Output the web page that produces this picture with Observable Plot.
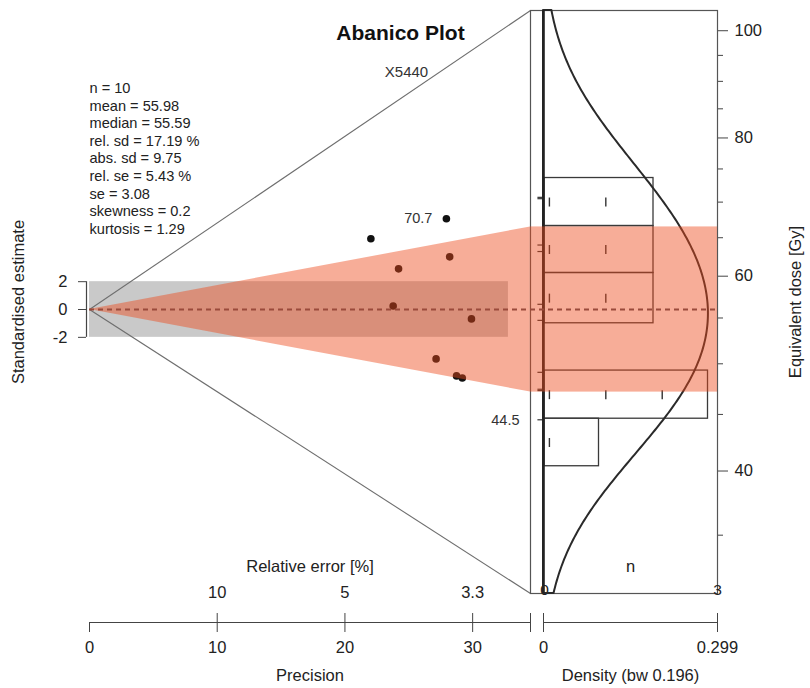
<!DOCTYPE html>
<html><head><meta charset="utf-8">
<script src="https://cdn.jsdelivr.net/npm/d3@7"></script>
<script src="https://cdn.jsdelivr.net/npm/@observablehq/plot@0.6"></script>
<style>
body{margin:0;background:#fff;}
#chart{position:relative;width:810px;height:688px;background:#fff;overflow:hidden;}
#chart svg{position:absolute;left:0;top:0;}
</style></head><body><div id="chart"></div>
<script>
// ---------------- data ----------------
const sampleName = "X5440";
const de      = [70.5, 70.7, 63.16, 64.02, 56.59, 54.73, 49.12, 47.42, 47.29, 44.5];
const deError = [3.20, 2.53, 2.61, 2.27, 2.38, 1.83, 1.81, 1.65, 1.62, 1.28];
const centralValue = 55.98;
const relSd = 0.1719;
const statLines = ["n = 10", "mean = 55.98", "median = 55.59", "rel. sd = 17.19 %",
  "abs. sd = 9.75", "rel. se = 5.43 %", "se = 3.08", "skewness = 0.2", "kurtosis = 1.29"];
const precisionTicks = [0, 10, 20, 30];
const relErrorTickPrecision = [10, 20, 30];
const doseTicks = [40, 60, 80, 100];
const doseMinorTicks = [35, 45, 50, 55, 65, 70, 75, 85, 90, 95];
const histBreaks = [40.4, 44.6, 49.3, 54.4, 60.4, 66.6, 73.6];
const zLimits = [31.0, 104.3];
const stdTicks = [-2, 0, 2];
const densityBw = 0.196;
const densityAxisMax = 0.299;
const precisionAxisMax = 34.53;
const plotPrecisionLimit = 32.8;

// ---------------- helpers ----------------
const FONT = "Liberation Sans, Arial, Helvetica, sans-serif";
const W = 810, H = 688;
const frameM = {top: 10, bottom: 95};
const AX = 16.5;      // axis font size
const baseStyle = {background: "transparent", fontFamily: FONT, fontSize: AX + "px", color: "#222", overflow: "visible"};
const redFill = "rgb(237,73,26)", redOpacity = 0.45;
const dashColor = "#9a4a3b";
const lnZ0 = Math.log(centralValue);
const stdAt = z => (Math.log(z) - lnZ0) * precisionAxisMax;
const yStdDomain = [stdAt(zLimits[0]), stdAt(zLimits[1])];
const pts = de.map((z, i) => {
  const precision = z / deError[i];
  return {z, precision, std: (Math.log(z) - lnZ0) * precision};
});
const extremes = [pts[d3.maxIndex(pts, d => d.z)], pts[d3.minIndex(pts, d => d.z)]];
const bandHalf = relSd * precisionAxisMax;
const chart = document.getElementById("chart");

// ---------------- left radial panel ----------------
chart.append(Plot.plot({
  width: W, height: H, marginLeft: 89, marginRight: 280, marginTop: frameM.top, marginBottom: frameM.bottom,
  style: baseStyle,
  x: {domain: [0, precisionAxisMax], axis: null},
  y: {domain: yStdDomain, axis: null},
  marks: [
    Plot.rect([0], {x1: 0, x2: plotPrecisionLimit, y1: -2, y2: 2, fill: "#c9c9c9"}),
    Plot.link(zLimits, {x1: 0, y1: 0, x2: precisionAxisMax, y2: d => stdAt(d), stroke: "#6e6e6e", strokeWidth: 1.1}),
    Plot.dot(pts.filter(d => d.precision <= plotPrecisionLimit), {x: "precision", y: "std", r: 3.8, fill: "#111", stroke: "none"}),
    Plot.areaY([{x: 0, lo: 0, hi: 0}, {x: precisionAxisMax, lo: -bandHalf, hi: bandHalf}],
      {x: "x", y1: "lo", y2: "hi", fill: redFill, fillOpacity: redOpacity}),
    Plot.ruleY([0], {stroke: dashColor, strokeWidth: 1.8, strokeDasharray: "5,4"}),
    Plot.text(extremes, {x: "precision", y: "std", text: d => d3.format(".1f")(d.z), textAnchor: "end", dx: -14, fontSize: 14.5, fill: "#333"}),
    Plot.text([statLines.join("\n")], {frameAnchor: "top-left", dy: 70, lineHeight: 1.205, fontSize: 14.6, fill: "#222"}),
    Plot.text(["Abanico Plot"], {frameAnchor: "top-left", dx: 311, dy: 23, textAnchor: "middle", lineAnchor: "middle", fontWeight: "bold", fontSize: 21, fill: "#111"}),
    Plot.text([sampleName], {frameAnchor: "top-left", dx: 317, dy: 62, textAnchor: "middle", lineAnchor: "middle", fontSize: 15, fill: "#333"})
  ]
}));

// ---------------- left y axis (standardised estimate) ----------------
chart.append(Plot.plot({
  width: W, height: H, marginLeft: 86, marginRight: 280, marginTop: frameM.top, marginBottom: frameM.bottom,
  style: baseStyle,
  x: {domain: [0, 1], axis: null},
  y: {domain: yStdDomain},
  marks: [
    Plot.ruleX([0], {y1: -2, y2: 2, stroke: "#444", strokeWidth: 1.2}),
    Plot.axisY({anchor: "left", ticks: stdTicks, tickSize: 8, tickPadding: 11, tickFormat: d => String(d), label: null, fontSize: AX, stroke: "#444"}),
    Plot.text(["Standardised estimate"], {frameAnchor: "left", dx: -68, rotate: -90, textAnchor: "middle", lineAnchor: "middle", fontSize: AX, fill: "#222"})
  ]
}));

// ---------------- histogram panel ----------------
const bins = [];
for (let i = 0; i < histBreaks.length - 1; i++) {
  const lo = histBreaks[i], hi = histBreaks[i + 1];
  const count = de.filter(z => z >= lo && z < hi).length;
  if (count > 0) bins.push({lo, hi, count, mid: Math.sqrt(lo * hi)});
}
const maxCount = d3.max(bins, d => d.count);
const nDomain = [-14 / 54.5, 173 / 54.5];
const countTicks = bins.flatMap(b => d3.range(b.count).map(k => ({n: k * 1.035 + 0.09, y: b.mid})));
const vbar = {draw(ctx) { ctx.moveTo(0, -4.5); ctx.lineTo(0, 4.5); }};
chart.append(Plot.plot({
  width: W, height: H, marginLeft: 530, marginRight: 93, marginTop: frameM.top, marginBottom: frameM.bottom,
  style: baseStyle,
  x: {domain: nDomain, axis: null},
  y: {type: "log", domain: zLimits},
  marks: [
    Plot.rect(bins, {x1: 0, x2: "count", y1: "lo", y2: "hi", fill: "none", stroke: "#3a3a3a", strokeWidth: 1.3}),
    Plot.dot(countTicks, {x: "n", y: "y", symbol: vbar, fill: "none", stroke: "#333", strokeWidth: 1.4}),
    Plot.link(de, {x1: -0.13, x2: -0.01, y1: d => d, y2: d => d, stroke: "#333", strokeWidth: 1.2}),
    Plot.frame({stroke: "#555", strokeWidth: 1.2}),
    Plot.axisY({anchor: "right", ticks: doseTicks, tickSize: 10, tickPadding: 7, tickFormat: d => String(d), label: null, fontSize: AX, stroke: "#444"}),
    Plot.axisY({anchor: "right", ticks: doseMinorTicks, tickSize: 5, tickFormat: () => "", label: null, stroke: "#444"}),
    Plot.text(["Equivalent dose [Gy]"], {frameAnchor: "right", dx: 78, rotate: -90, textAnchor: "middle", lineAnchor: "middle", fontSize: AX, fill: "#222"}),
    Plot.text([0, nDomain[1]], {x: d => d, frameAnchor: "bottom", dy: -3, text: d => d === 0 ? "0" : String(maxCount), lineAnchor: "middle", textAnchor: "middle", fontSize: 15.5, fill: "#222"})
  ]
}));

// ---------------- KDE panel (+ central band on top) ----------------
const lnDe = de.map(Math.log);
const lnMin = Math.log(zLimits[0]), lnMax = Math.log(zLimits[1]);
const kdeRaw = d3.range(241).map(i => {
  const t = lnMin + (lnMax - lnMin) * i / 240;
  const v = d3.mean(lnDe, x => Math.exp(-0.5 * ((t - x) / densityBw) ** 2)) / (densityBw * Math.sqrt(2 * Math.PI));
  return {dose: Math.exp(t), v};
});
const kMax = d3.max(kdeRaw, d => d.v);
const kde = kdeRaw.map(d => ({dose: d.dose, density: d.v / kMax * densityAxisMax / 1.055}));
const dDomain = [-(13 / 174) * densityAxisMax, densityAxisMax];
chart.append(Plot.plot({
  width: W, height: H, marginLeft: 530, marginRight: 93, marginTop: frameM.top, marginBottom: frameM.bottom,
  style: baseStyle,
  x: {domain: dDomain, axis: null},
  y: {type: "log", domain: zLimits, axis: null},
  marks: [
    Plot.areaX(kde, {y: "dose", x1: 0, x2: "density", fill: "none", stroke: "#2a2a2a", strokeWidth: 2}),
    Plot.ruleX([0], {stroke: "#222", strokeWidth: 2.6}),
    Plot.rect([0], {x1: dDomain[0], x2: densityAxisMax, y1: centralValue * Math.exp(-relSd), y2: centralValue * Math.exp(relSd), fill: redFill, fillOpacity: redOpacity}),
    Plot.ruleY([centralValue], {stroke: dashColor, strokeWidth: 1.8, strokeDasharray: "5,4"}),
    Plot.text(["n"], {x: densityAxisMax / 2, frameAnchor: "bottom", dy: -27, lineAnchor: "middle", textAnchor: "middle", fontSize: AX, fill: "#222"})
  ]
}));

// ---------------- bottom axis: precision / relative error ----------------
const precLabel = new Map(precisionTicks.map(d => [d, String(d)]));
const relLabel = new Map(relErrorTickPrecision.map(d => [d, String(Math.round(1000 / d) / 10)]));
chart.append(Plot.plot({
  width: W, height: H, marginLeft: 89, marginRight: 280, marginTop: 622, marginBottom: 66,
  style: baseStyle,
  x: {domain: [0, precisionAxisMax]},
  y: {domain: [0, 1], axis: null},
  marks: [
    Plot.ruleY([0], {stroke: "#444", strokeWidth: 1.2}),
    Plot.axisX({anchor: "bottom", ticks: [...precisionTicks, precisionAxisMax], tickFormat: d => precLabel.get(d) ?? "", tickSize: 10, tickPadding: 9, label: null, fontSize: AX, stroke: "#444"}),
    Plot.axisX({anchor: "top", ticks: [...relErrorTickPrecision, precisionAxisMax], tickFormat: d => relLabel.get(d) ?? "", tickSize: 10, tickPadding: 15, label: null, fontSize: AX, stroke: "#444"}),
    Plot.text(["Relative error [%]"], {frameAnchor: "top", dy: -56, lineAnchor: "middle", textAnchor: "middle", fontSize: AX, fill: "#222"}),
    Plot.text(["Precision"], {frameAnchor: "bottom", dy: 53, lineAnchor: "middle", textAnchor: "middle", fontSize: AX, fill: "#222"})
  ]
}));

// ---------------- bottom axis: density ----------------
chart.append(Plot.plot({
  width: W, height: H, marginLeft: 530, marginRight: 93, marginTop: 622, marginBottom: 66,
  style: baseStyle,
  x: {domain: dDomain},
  y: {domain: [0, 1], axis: null},
  marks: [
    Plot.ruleY([0], {x1: 0, x2: densityAxisMax, stroke: "#444", strokeWidth: 1.2}),
    Plot.axisX({anchor: "bottom", ticks: [0, densityAxisMax], tickFormat: d => d === 0 ? "0" : String(densityAxisMax), tickSize: 10, tickPadding: 9, label: null, fontSize: AX, stroke: "#444"}),
    Plot.axisX({anchor: "top", ticks: [0, densityAxisMax], tickFormat: () => "", tickSize: 10, label: null, stroke: "#444"}),
    Plot.text([`Density (bw ${densityBw})`], {x: densityAxisMax / 2, frameAnchor: "bottom", dy: 53, lineAnchor: "middle", textAnchor: "middle", fontSize: AX, fill: "#222"})
  ]
}));
</script></body></html>
